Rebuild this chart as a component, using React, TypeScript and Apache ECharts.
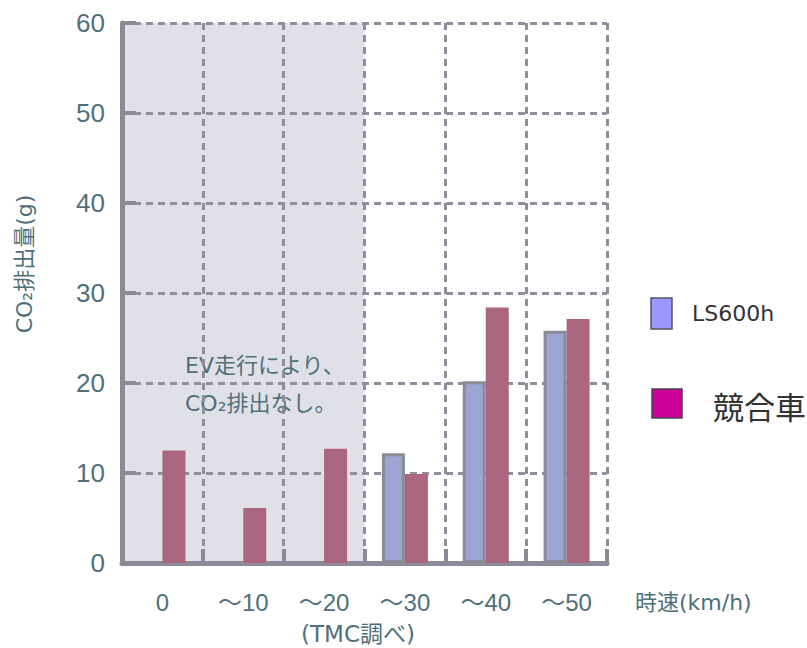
import React, { useEffect, useRef } from 'react';
import * as echarts from 'echarts';

const categories = ['0', '～10', '～20', '～30', '～40', '～50'];
const ls600h = [null, null, null, 12.2, 20.2, 25.8];
const competitor = [12.5, 6.1, 12.7, 9.9, 28.4, 27.1];
const evShade = [60, 60, 60, null, null, null];
const seriesNames = ['LS600h', '競合車'];
const yAxisTitle = 'CO₂排出量(g)';
const xAxisTitle = '時速(km/h)';
const sourceNote = '(TMC調べ)';
const noteLines = ['EV走行により、', 'CO₂排出なし。'];

const LATIN = '"Liberation Sans", "Noto Sans CJK JP", sans-serif';
const CJK = '"Noto Sans CJK JP", sans-serif';
const MIXED = '"DejaVu Sans", "Noto Sans CJK JP", sans-serif';
const TEXT = '#4f7078';
const AXIS = '#8b8b98';
const GRID = '#8f8f9c';
const SHADE = '#e0e0e8';

export default function App() {
  const ref = useRef<HTMLDivElement>(null);
  useEffect(() => {
    document.body.style.margin = '0';
    document.body.style.overflow = 'hidden';
    const chart = echarts.init(ref.current!, null, { renderer: 'svg' });
    const dashed = { color: GRID, width: 3, type: [7, 5] as number[] };
    const option = {
      animation: false,
      backgroundColor: '#ffffff',
      textStyle: { fontFamily: LATIN },
      grid: { left: 122, right: 200, top: 23, bottom: 85 },
      xAxis: [
        {
          type: 'category',
          data: categories,
          boundaryGap: true,
          axisLine: { show: true, lineStyle: { color: AXIS, width: 5 } },
          axisTick: { show: true, inside: true, length: 14, lineStyle: { color: AXIS, width: 4 } },
          axisLabel: { color: TEXT, fontSize: 24, margin: 27, fontFamily: LATIN },
          splitLine: { show: true, lineStyle: dashed },
        },
        { type: 'category', data: categories, show: false, boundaryGap: true },
      ],
      yAxis: {
        type: 'value',
        min: 0,
        max: 60,
        interval: 10,
        axisLine: { show: true, lineStyle: { color: AXIS, width: 5 } },
        axisTick: { show: true, inside: true, length: 14, lineStyle: { color: AXIS, width: 4 } },
        axisLabel: { color: TEXT, fontSize: 26, margin: 17, fontFamily: LATIN },
        splitLine: { show: true, lineStyle: dashed },
      },
      series: [
        {
          type: 'bar',
          xAxisIndex: 1,
          data: evShade,
          barWidth: '100%',
          itemStyle: { color: SHADE },
          z: -1,
          silent: true,
        },
        {
          name: seriesNames[0],
          type: 'bar',
          data: ls600h,
          barWidth: 23,
          barGap: '0%',
          itemStyle: { color: '#9ba6d4', borderColor: '#8a8a99', borderWidth: 3 },
          z: 3,
        },
        {
          name: seriesNames[1],
          type: 'bar',
          data: competitor,
          barWidth: 23,
          barGap: '0%',
          itemStyle: { color: '#ab667f' },
          z: 2,
        },
      ],
      graphic: [
        {
          type: 'text',
          x: 24,
          y: 264,
          rotation: Math.PI / 2,
          style: { text: yAxisTitle, fill: TEXT, font: `22px ${MIXED}`, textAlign: 'center', textVerticalAlign: 'middle' },
        },
        {
          type: 'text',
          x: 635,
          y: 602,
          style: { text: xAxisTitle, fill: TEXT, font: `22px ${MIXED}`, textAlign: 'left', textVerticalAlign: 'middle' },
        },
        {
          type: 'text',
          x: 358,
          y: 634,
          style: { text: sourceNote, fill: TEXT, font: `23px ${MIXED}`, textAlign: 'center', textVerticalAlign: 'middle' },
        },
        {
          type: 'text',
          x: 185,
          y: 365,
          style: { text: noteLines[0], fill: TEXT, font: `22px ${MIXED}`, textAlign: 'left', textVerticalAlign: 'middle' },
        },
        {
          type: 'text',
          x: 185,
          y: 403,
          style: { text: noteLines[1], fill: TEXT, font: `22px ${MIXED}`, textAlign: 'left', textVerticalAlign: 'middle' },
        },
        {
          type: 'rect',
          shape: { x: 651, y: 298, width: 21, height: 31 },
          style: { fill: '#9999ff', stroke: '#555560', lineWidth: 1.5 },
        },
        {
          type: 'text',
          x: 692,
          y: 313,
          style: { text: seriesNames[0], fill: '#333333', font: `22px ${MIXED}`, textAlign: 'left', textVerticalAlign: 'middle' },
        },
        {
          type: 'rect',
          shape: { x: 652, y: 389, width: 30, height: 29 },
          style: { fill: '#cc0099', stroke: '#444450', lineWidth: 1.5 },
        },
        {
          type: 'text',
          x: 713,
          y: 405,
          style: { text: seriesNames[1], fill: '#333333', font: `31px ${CJK}`, textAlign: 'left', textVerticalAlign: 'middle' },
        },
      ],
    };
    chart.setOption(option as any);
    return () => chart.dispose();
  }, []);
  return <div ref={ref} style={{ width: 807, height: 648 }} />;
}
